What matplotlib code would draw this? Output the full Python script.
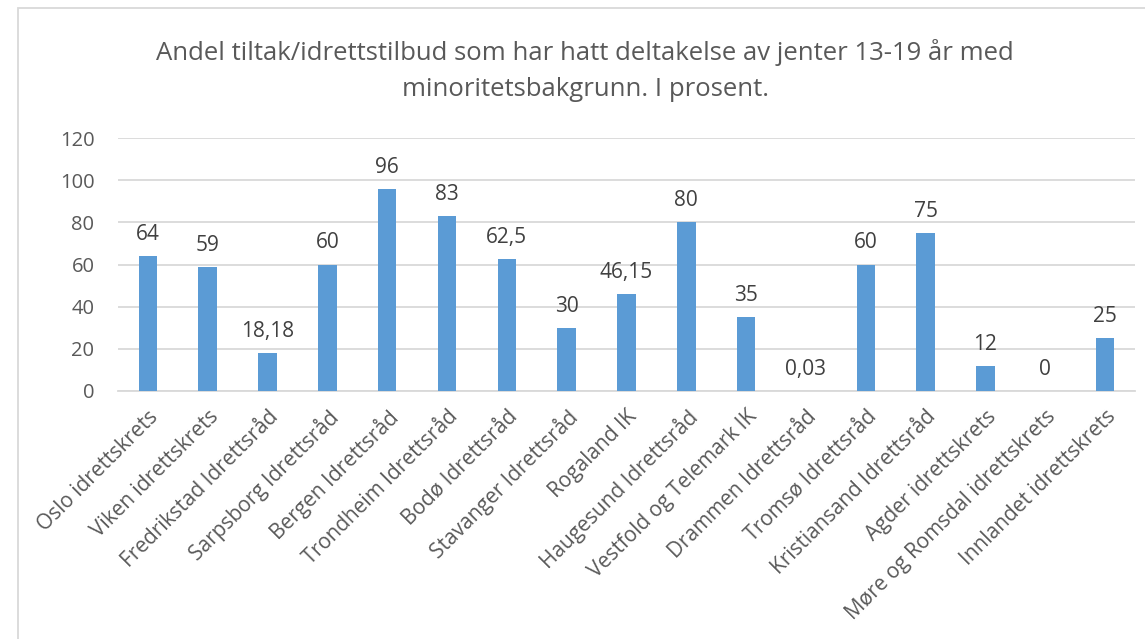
import matplotlib.pyplot as plt
import numpy as np
from matplotlib.patches import Rectangle

plt.rcParams['font.family'] = ['Open Sans', 'DejaVu Sans']

kategorier = ["Oslo idrettskrets", "Viken idrettskrets", "Fredrikstad Idrettsråd",
              "Sarpsborg Idrettsråd", "Bergen Idrettsråd", "Trondheim Idrettsråd",
              "Bodø Idrettsråd", "Stavanger Idrettsråd", "Rogaland IK",
              "Haugesund Idrettsråd", "Vestfold og Telemark IK", "Drammen Idrettsråd",
              "Tromsø Idrettsråd", "Kristiansand Idrettsråd", "Agder idrettskrets",
              "Møre og Romsdal idrettskrets", "Innlandet idrettskrets"]
verdier = [64, 59, 18.18, 60, 96, 83, 62.5, 30, 46.15, 80, 35, 0.03, 60, 75, 12, 0, 25]
etiketter = ["64", "59", "18,18", "60", "96", "83", "62,5", "30", "46,15", "80",
             "35", "0,03", "60", "75", "12", "0", "25"]
yticks = [0, 20, 40, 60, 80, 100, 120]

tekst = '#595959'
W, H = 1145, 639
fig = plt.figure(figsize=(W / 100, H / 100), dpi=100)
ax = fig.add_axes([118 / W, 1 - 391 / H, (1135 - 118) / W, (391 - 138) / H])

x = np.arange(len(kategorier))
ax.bar(x, verdier, width=0.31, color='#5B9BD5', zorder=3)
for xi, v, lab in zip(x, verdier, etiketter):
    ax.annotate(lab, (xi, v), xytext=(0, 11), textcoords='offset pixels',
                ha='center', va='bottom', fontsize=15, color='#404040')

ax.set_xlim(-0.5, len(kategorier) - 0.5)
ax.set_ylim(0, 120)
ax.set_yticks(yticks)
ax.yaxis.grid(True, color='#D9D9D9', linewidth=1.3, zorder=0)
ax.tick_params(axis='y', length=0, labelsize=14.5, labelcolor=tekst, pad=17)
ax.set_xticks(x)
ax.set_xticklabels(kategorier, rotation=45, ha='right', rotation_mode='anchor',
                   fontsize=15, color=tekst)
ax.tick_params(axis='x', length=0, pad=11)
for s in ['top', 'right', 'left']:
    ax.spines[s].set_visible(False)
ax.spines['bottom'].set_color('#D9D9D9')
ax.spines['bottom'].set_linewidth(1.3)

fig.text(585 / W, 1 - 52 / H, "Andel tiltak/idrettstilbud som har hatt deltakelse av jenter 13-19 år med",
         ha='center', va='center', fontsize=18.5, color=tekst)
fig.text(585 / W, 1 - 90 / H, "minoritetsbakgrunn. I prosent.",
         ha='center', va='center', fontsize=18.5, color=tekst)

fig.patches.append(Rectangle((18 / W, -0.1), 1.2, 1 - 8 / H + 0.1, transform=fig.transFigure,
                             fill=False, edgecolor='#D9D9D9', linewidth=1.3))

fig.savefig("out.png", dpi=100)
